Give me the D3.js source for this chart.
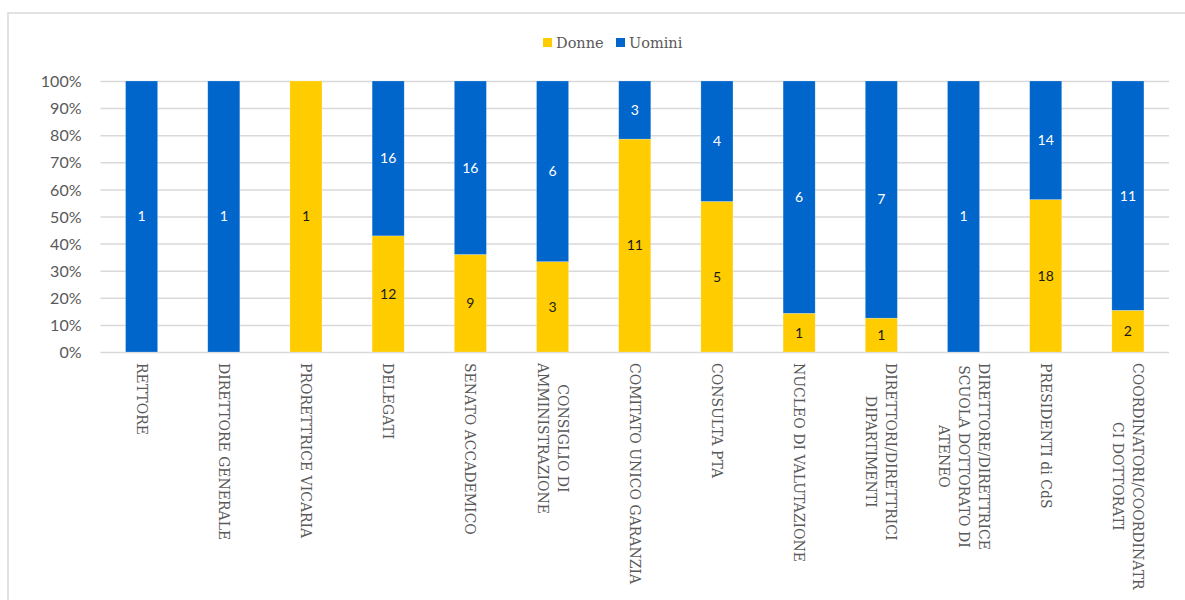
<!DOCTYPE html>
<html>
<head>
<meta charset="utf-8">
<script src="https://cdn.jsdelivr.net/npm/d3@7"></script>
<style>
  html, body { margin: 0; padding: 0; background: #fff; }
  svg { display: block; }
</style>
</head>
<body>
<svg id="chart" width="1185" height="600"></svg>
<script>
// Organi di ateneo: composizione per genere
const categories = [
  ["RETTORE"],
  ["DIRETTORE GENERALE"],
  ["PRORETTRICE VICARIA"],
  ["DELEGATI"],
  ["SENATO ACCADEMICO"],
  ["CONSIGLIO DI", "AMMINISTRAZIONE"],
  ["COMITATO UNICO GARANZIA"],
  ["CONSULTA PTA"],
  ["NUCLEO DI VALUTAZIONE"],
  ["DIRETTORI/DIRETTRICI", "DIPARTIMENTI"],
  ["DIRETTORE/DIRETTRICE", "SCUOLA DOTTORATO DI", "ATENEO"],
  ["PRESIDENTI di CdS"],
  ["COORDINATORI/COORDINATR", "CI DOTTORATI"]
];
const donne  = [0, 0, 1, 12, 9, 3, 11, 5, 1, 1, 0, 18, 2];
const uomini = [1, 1, 0, 16, 16, 6, 3, 4, 6, 7, 1, 14, 11];
const seriesNames = ["Donne", "Uomini"];
const seriesColors = ["#FFCC00", "#0066CC"];
const yTicks = [0, 0.1, 0.2, 0.3, 0.4, 0.5, 0.6, 0.7, 0.8, 0.9, 1];

const svg = d3.select("#chart");
const W = 1185, H = 600;
const plot = { left: 100.5, right: 1169, top: 81, bottom: 352 };

// outer chart frame
svg.append("rect")
  .attr("x", 8).attr("y", 13)
  .attr("width", W + 20).attr("height", H + 20)
  .attr("fill", "#fff").attr("stroke", "#d9d9d9").attr("stroke-width", 1.5);

const rows = categories.map((c, i) => ({
  key: i, label: c, Donne: donne[i], Uomini: uomini[i]
}));

const x = d3.scaleBand()
  .domain(rows.map(d => d.key))
  .range([plot.left, plot.right])
  .paddingInner(0.61).paddingOuter(0.305);

const y = d3.scaleLinear().domain([0, 1]).range([plot.bottom, plot.top]);

const stack = d3.stack().keys(seriesNames).offset(d3.stackOffsetExpand);
const layers = stack(rows);

// gridlines
svg.append("g")
  .attr("transform", `translate(${plot.left},0)`)
  .call(d3.axisLeft(y).tickValues(yTicks).tickSize(-(plot.right - plot.left)).tickFormat(""))
  .call(g => g.select(".domain").remove())
  .call(g => g.selectAll("line").attr("stroke", "#d9d9d9").attr("stroke-width", 1.5));

// y tick labels
svg.append("g")
  .attr("transform", `translate(${plot.left - 16},0)`)
  .call(d3.axisLeft(y).tickValues(yTicks).tickSize(0).tickFormat(d3.format(".0%")))
  .call(g => g.select(".domain").remove())
  .call(g => g.selectAll("text")
    .attr("font-family", "Lato, 'Open Sans', sans-serif")
    .attr("font-size", 16)
    .attr("fill", "#595959")
    .attr("dy", "0.35em"));

// stacked bars
const color = d3.scaleOrdinal().domain(seriesNames).range(seriesColors);
const barG = svg.append("g");
layers.forEach(layer => {
  barG.append("g").attr("fill", color(layer.key))
    .selectAll("rect")
    .data(layer)
    .join("rect")
    .attr("x", d => x(d.data.key))
    .attr("width", x.bandwidth())
    .attr("y", d => y(d[1]))
    .attr("height", d => Math.max(0, y(d[0]) - y(d[1])))
    .attr("stroke", "#ffffff").attr("stroke-opacity", 0.35).attr("stroke-width", 0.6);
});

// value labels inside segments
layers.forEach(layer => {
  svg.append("g")
    .selectAll("text")
    .data(layer.filter(d => d.data[layer.key] > 0))
    .join("text")
    .attr("x", d => x(d.data.key) + x.bandwidth() / 2)
    .attr("y", d => (y(d[0]) + y(d[1])) / 2)
    .attr("dy", "0.35em")
    .attr("text-anchor", "middle")
    .attr("font-family", "Lato, 'Open Sans', sans-serif")
    .attr("font-size", 14)
    .attr("fill", layer.key === "Uomini" ? "#ffffff" : "#1a1a1a")
    .text(d => d.data[layer.key]);
});

// category labels, rotated to read downward; first line on the right
const lineGap = 20;
const catG = svg.append("g");
rows.forEach(d => {
  const cx = x(d.key) + x.bandwidth() / 2;
  const n = d.label.length;
  const t = catG.append("text")
    .attr("transform", `translate(${cx},${plot.bottom + 11}) rotate(90)`)
    .attr("font-family", "'DejaVu Serif', serif")
    .attr("font-size", 14)
    .attr("fill", "#595959");
  // widest line sets the block length; other lines are centred in it
  const spans = [];
  d.label.forEach((line, i) => {
    const ts = t.append("tspan")
      .attr("y", (i - (n - 1) / 2) * lineGap)
      .attr("dy", "0.35em")
      .text(line);
    spans.push(ts);
  });
  const widths = spans.map(ts => ts.node().getComputedTextLength());
  const maxW = d3.max(widths);
  spans.forEach((ts, i) => ts.attr("x", (maxW - widths[i]) / 2));
});

// legend
const legend = svg.append("g").attr("transform", "translate(543,43)");
const legendItems = [
  { name: seriesNames[0], dx: 0 },
  { name: seriesNames[1], dx: 73 }
];
legendItems.forEach(it => {
  const g = legend.append("g").attr("transform", `translate(${it.dx},0)`);
  g.append("rect").attr("x", 0).attr("y", -5).attr("width", 9).attr("height", 9)
    .attr("fill", color(it.name));
  g.append("text").attr("x", 13).attr("y", 0).attr("dy", "0.35em")
    .attr("font-family", "'DejaVu Serif', serif")
    .attr("font-size", 14.5)
    .attr("fill", "#595959")
    .text(it.name);
});
</script>
</body>
</html>
